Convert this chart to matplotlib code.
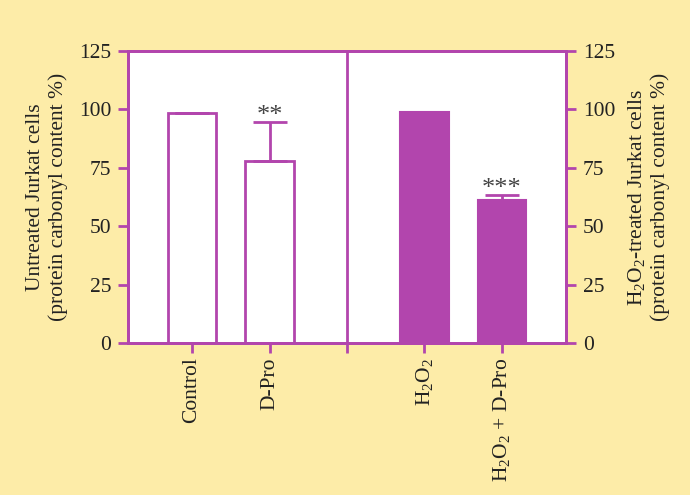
import matplotlib.pyplot as plt

# data
groups = ["Control", "D-Pro", "", r"H$_2$O$_2$", r"H$_2$O$_2$ + D-Pro"]
untreated_pos = [0, 1]
untreated_vals = [98.5, 78]
untreated_err = [0, 16.5]
treated_pos = [3, 4]
treated_vals = [98.8, 61.2]
treated_err = [0, 2.2]
stars = {1: "**", 4: "***"}

purple = "#b245ad"
bg = "#fdeca8"
fs = 15.5

plt.rcParams['font.family'] = ['Liberation Serif', 'DejaVu Serif']
plt.rcParams['mathtext.default'] = 'regular'

fig = plt.figure(figsize=(6.9, 4.95), dpi=100, facecolor=bg)
ax = fig.add_axes([0.1855, 0.3071, 0.6348, 0.5899])
ax.set_facecolor("white")

w = 0.62
ax.bar(untreated_pos, untreated_vals, width=w, color="white", edgecolor=purple, linewidth=2,
       yerr=[[0, 0], untreated_err], error_kw=dict(ecolor=purple, elinewidth=2, capsize=12, capthick=2))
ax.bar(treated_pos, treated_vals, width=w, color=purple, edgecolor=purple, linewidth=1.5,
       yerr=[[0, 0], treated_err], error_kw=dict(ecolor=purple, elinewidth=2, capsize=12, capthick=2))

# significance stars
allvals = dict(zip(untreated_pos + treated_pos, untreated_vals + treated_vals))
allerr = dict(zip(untreated_pos + treated_pos, untreated_err + treated_err))
for p, s in stars.items():
    ax.text(p, allvals[p] + allerr[p] - 2.2, s, ha="center", va="bottom", fontsize=19, color="#444444")

# divider between the two panels
ax.axvline(2, color=purple, linewidth=2)

ax.set_xlim(-0.826, 4.826)
ax.set_ylim(0, 125)
ax.set_yticks([0, 25, 50, 75, 100, 125])
ax.set_xticks(range(len(groups)))
ax.set_xticklabels(groups, rotation=90, fontsize=fs)

for sp in ax.spines.values():
    sp.set_color(purple)
    sp.set_linewidth(2)

ax.tick_params(axis="both", colors=purple, width=2, length=7, labelcolor="#222222", labelsize=fs)
ax.tick_params(axis="y", pad=5)
ax.set_ylabel("Untreated Jurkat cells\n(protein carbonyl content %)", fontsize=fs, color="#222222", labelpad=8)

ax2 = ax.twinx()
ax2.set_ylim(0, 125)
ax2.set_yticks([0, 25, 50, 75, 100, 125])
for sp in ax2.spines.values():
    sp.set_color(purple)
    sp.set_linewidth(2)
ax2.tick_params(axis="y", colors=purple, width=2, length=7, labelcolor="#222222", labelsize=fs, pad=5)
ax2.set_ylabel("H$_2$O$_2$-treated Jurkat cells\n(protein carbonyl content %)", fontsize=fs,
               color="#222222", labelpad=8)

plt.savefig("out.png", facecolor=bg)
